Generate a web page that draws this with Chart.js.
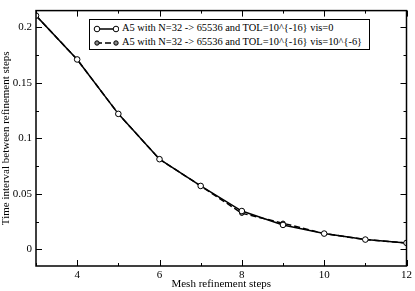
<!DOCTYPE html>
<html>
<head>
<meta charset="utf-8">
<script src="https://cdn.jsdelivr.net/npm/chart.js@4.4.1/dist/chart.umd.min.js"></script>
<style>
  html, body { margin: 0; padding: 0; background: #fff; }
  #wrap { position: relative; width: 415px; height: 291px; }
  #legend {
    position: absolute; left: 89px; top: 19px; width: 281px; height: 31px;
    border: 1px solid #000; background: #fff; box-sizing: border-box;
    font-family: "Liberation Serif", serif; font-size: 10.4px; color: #000;
  }
  .row { position: absolute; left: 3px; height: 15px; line-height: 15px; white-space: nowrap; }
  .row svg { vertical-align: middle; margin-right: 3px; }
</style>
</head>
<body>
<div id="wrap">
  <canvas id="c" width="415" height="291"></canvas>
  <div id="legend"></div>
</div>
<script>
  // steps on the x axis
  const steps = [3, 4, 5, 6, 7, 8, 9, 10, 11, 12];
  // vis = 0
  const visZero = [0.2105, 0.171, 0.122, 0.0812, 0.0571, 0.0345, 0.022, 0.0142, 0.0088, 0.0058];
  // vis = 10^{-6}
  const visSmall = [0.2105, 0.171, 0.122, 0.0812, 0.0571, 0.0325, 0.0235, 0.0142, 0.0088, 0.0058];
  const labels = [
    "A5 with  N=32 -> 65536 and TOL=10^{-16} vis=0",
    "A5 with  N=32 -> 65536 and TOL=10^{-16} vis=10^{-6}"
  ];
  const xTitle = "Mesh refinement steps";
  const yTitle = "Time interval between refinement steps";

  const FONT = "Liberation Serif";

  function toPts(ys) { return steps.map((x, i) => ({ x, y: ys[i] })); }

  // frame + inward ticks like xmgrace
  const frame = {
    id: "frame",
    afterDraw(chart) {
      const { ctx, chartArea: a, scales } = chart;
      ctx.save();
      ctx.strokeStyle = "#000";
      ctx.lineWidth = 1.5;
      ctx.strokeRect(a.left, a.top, a.right - a.left, a.bottom - a.top);
      ctx.lineWidth = 1;
      ctx.beginPath();
      for (let v = 3; v <= 12; v++) {
        const px = Math.round(scales.x.getPixelForValue(v)) + 0.5;
        const len = v % 2 === 0 ? 6 : 3;
        ctx.moveTo(px, a.bottom); ctx.lineTo(px, a.bottom - len);
        ctx.moveTo(px, a.top); ctx.lineTo(px, a.top + len);
      }
      for (let i = 0; i <= 8; i++) {
        const v = i * 0.025;
        const py = Math.round(scales.y.getPixelForValue(v)) + 0.5;
        const len = i % 2 === 0 ? 6 : 3;
        ctx.moveTo(a.left, py); ctx.lineTo(a.left + len, py);
        ctx.moveTo(a.right, py); ctx.lineTo(a.right - len, py);
      }
      ctx.stroke();
      ctx.restore();
    }
  };

  new Chart(document.getElementById("c"), {
    type: "line",
    data: {
      datasets: [
        {
          label: labels[0], data: toPts(visZero),
          borderColor: "#000", borderWidth: 1.5,
          pointStyle: "circle", pointRadius: 2.8, pointBorderWidth: 1,
          pointBackgroundColor: "#fff", pointBorderColor: "#000", tension: 0
        },
        {
          label: labels[1], data: toPts(visSmall),
          borderColor: "#000", borderWidth: 1.5, borderDash: [6, 3],
          pointStyle: "circle", pointRadius: 2.2, pointBorderWidth: 1,
          pointBackgroundColor: "#888", pointBorderColor: "#000", tension: 0
        }
      ]
    },
    options: {
      responsive: false, animation: false,
      layout: { padding: { top: 2, right: 8, left: 0, bottom: 0 } },
      plugins: { legend: { display: false }, tooltip: { enabled: false } },
      scales: {
        x: {
          type: "linear", min: 3, max: 12,
          afterBuildTicks(s) { s.ticks = steps.filter(v => v % 2 === 0).map(v => ({ value: v })); },
          afterFit(s) { s.height = 25; },
          grid: { display: false, drawTicks: false },
          border: { display: false },
          ticks: { color: "#000", padding: 3, maxRotation: 0, font: { family: FONT, size: 11 } },
          title: { display: true, text: xTitle, color: "#000", padding: { top: -2, bottom: 0 }, font: { family: FONT, size: 11 } }
        },
        y: {
          min: -0.015, max: 0.215,
          afterBuildTicks(s) { s.ticks = [0, 0.05, 0.1, 0.15, 0.2].map(v => ({ value: v })); },
          afterFit(s) { s.width = 36; },
          grid: { display: false, drawTicks: false },
          border: { display: false },
          ticks: { color: "#000", padding: 4, font: { family: FONT, size: 11 },
            callback: v => String(Math.round(v * 100) / 100) },
          title: { display: true, text: yTitle, color: "#000", padding: { top: 0, bottom: 0 }, font: { family: FONT, size: 11 } }
        }
      }
    },
    plugins: [frame]
  });

  // legend as text, symbols in small svg
  const leg = document.getElementById("legend");
  labels.forEach((t, i) => {
    const row = document.createElement("div");
    row.className = "row";
    row.style.top = (i === 0 ? 0 : 14) + "px";
    const dash = i === 1 ? ' stroke-dasharray="6,3"' : "";
    const fill = i === 1 ? "#888" : "#fff";
    const r = i === 1 ? 2.2 : 2.8;
    row.innerHTML =
      `<svg width="26" height="8"><line x1="3" y1="4" x2="23" y2="4" stroke="#000" stroke-width="1.5"${dash}/>` +
      `<circle cx="4" cy="4" r="${r}" fill="${fill}" stroke="#000"/><circle cx="23" cy="4" r="${r}" fill="${fill}" stroke="#000"/></svg>` +
      `<span></span>`;
    row.querySelector("span").textContent = t;
    leg.appendChild(row);
  });
</script>
</body>
</html>
